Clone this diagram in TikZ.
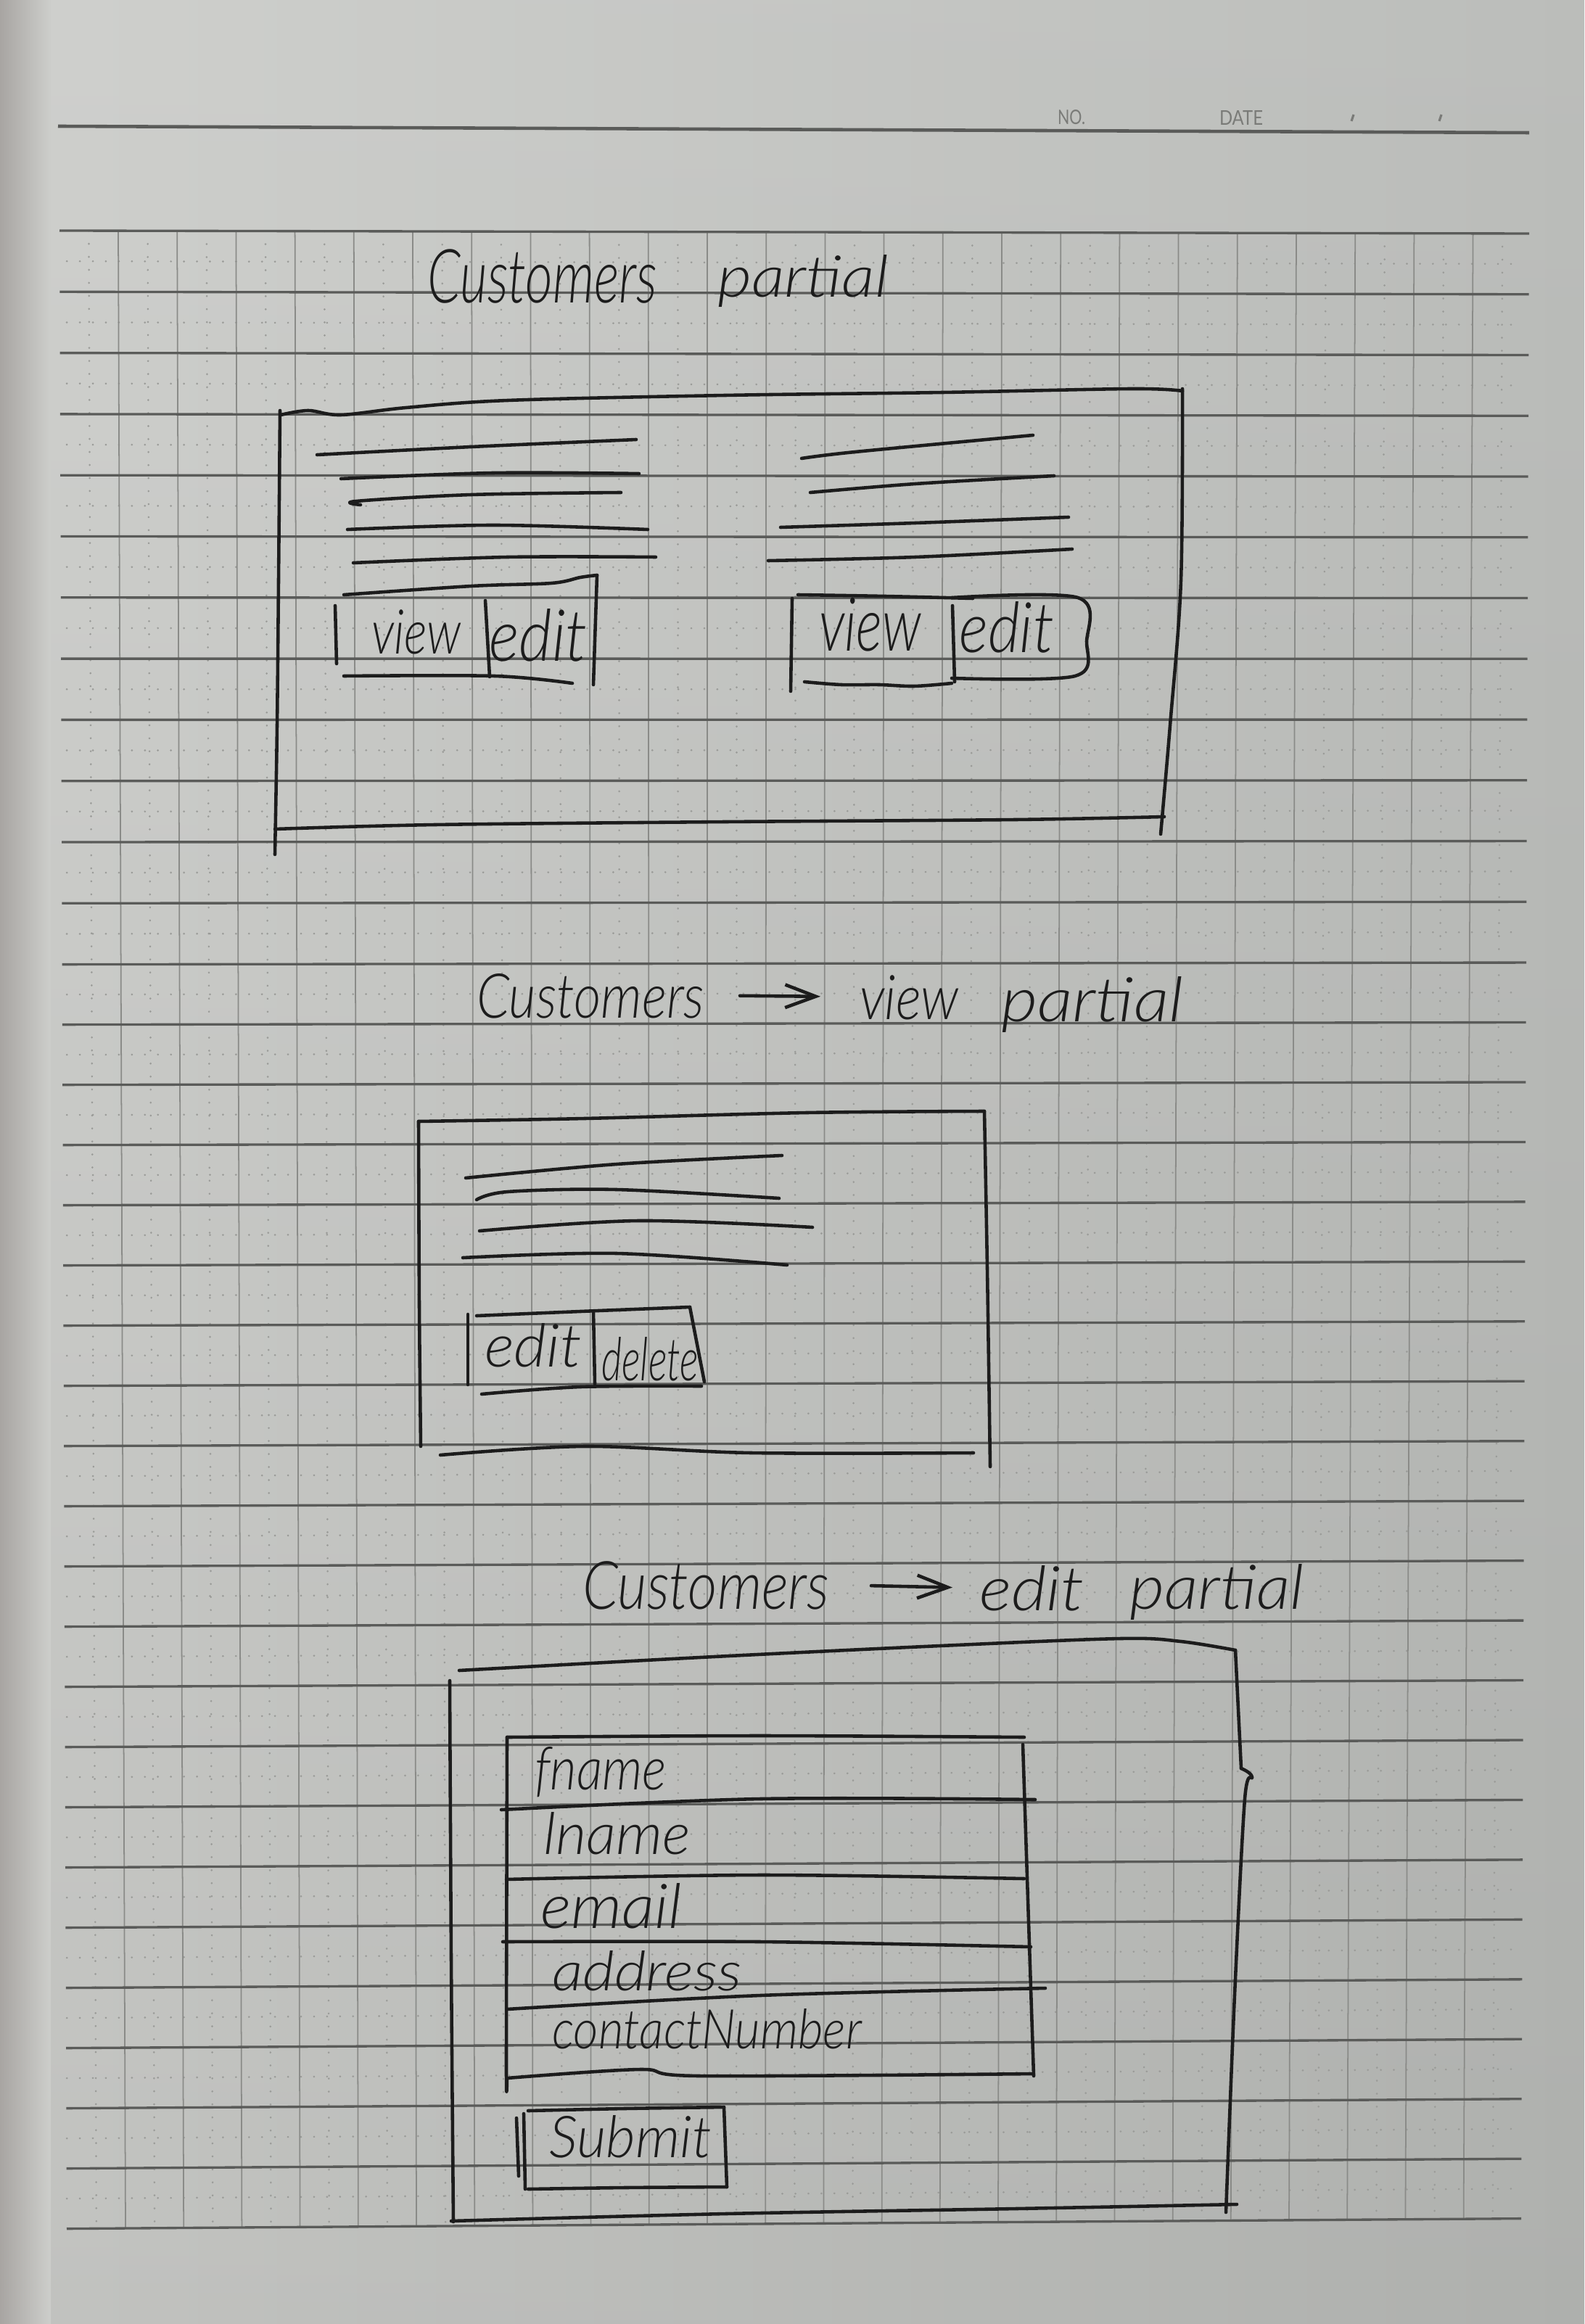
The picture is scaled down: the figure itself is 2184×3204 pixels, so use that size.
\documentclass[tikz,border=0pt]{standalone}
\usepackage{fontspec}
\setmainfont{Lato}
\IfFontExistsTF{Lato Light Italic}
  {\newfontfamily\handfont{Lato Light Italic}}
  {\newcommand\handfont{\itshape}}
\usetikzlibrary{arrows.meta}
% one unit of the sketch grid = 0.01cm
\newdimen\pxu
\pxu=0.01cm
% handwritten word: width, ascender height, text
\newcommand\scrawl[3]{\resizebox{#1\pxu}{#2\pxu}{\handfont\vphantom{l}#3}}
% printed header word: width, height, text
\newcommand\printed[3]{\resizebox{#1\pxu}{#2\pxu}{#3}}
\definecolor{ink}{HTML}{1C1C1C}
\definecolor{paperL}{HTML}{CDCECB}
\definecolor{paperR}{HTML}{B8BAB7}
\definecolor{edge}{HTML}{A8A5A2}
\definecolor{rulecol}{HTML}{5A5B59}
\definecolor{gridcol}{HTML}{8A8B88}
\definecolor{dotcol}{HTML}{9A9B98}
\definecolor{hdrgray}{HTML}{7A7B78}
\tikzset{
  inkline/.style={draw=ink, line width=1.3pt, line cap=round, line join=round},
  ruled/.style={draw=rulecol, line width=0.95pt},
  vruled/.style={draw=gridcol, line width=0.5pt},
  dotrule/.style={draw=dotcol, line width=0.75pt, dash pattern=on 0.1pt off 5pt, line cap=round},
  lbl/.style={inner sep=0pt, outer sep=0pt, anchor=base west, text=ink},
  hdr/.style={inner sep=0pt, outer sep=0pt, anchor=base west, text=hdrgray},
  headarrow/.style={-{Straight Barb[length=12pt,width=9pt]}},
  hand/.style={smooth, tension=0.55},
}
\begin{document}
\begin{tikzpicture}[x=0.01cm, y=-0.01cm]
\useasboundingbox (0,0) rectangle (2184,3204);

% ---------- paper ----------
\shade[left color=paperL, right color=paperR] (0,0) rectangle (2184,3204);
\shade[top color=white, bottom color=black, fill opacity=0.05] (0,0) rectangle (2184,3204);
\shade[left color=edge, right color=paperL] (0,0) rectangle (70,3204);

% header line with printed fields
\draw[draw=rulecol, line width=1.3pt] (80,174) -- (2108,183);
\node[hdr] (no)   at (1458,172) {\printed{38}{20}{NO.}};
\node[hdr] (date) at (1681,173) {\printed{60}{20}{DATE}};
\draw[draw=hdrgray, line width=0.9pt] (1866,158) -- (1863,167);
\draw[draw=hdrgray, line width=0.9pt] (1987,158) -- (1984,167);

% dotted half-lines (horizontal)
\foreach \i in {0,...,32}{
  \pgfmathsetmacro\ya{\i<=12 ? 318+84.3*\i : 1329.6+83*(\i-12)}
  \pgfmathsetmacro\yb{(\i+1)<=12 ? 318+84.3*(\i+1) : 1329.6+83*(\i+1-12)}
  \pgfmathsetmacro\ym{(\ya+\yb)/2}
  \pgfmathsetmacro\yr{\ym+4-(\i+0.5)/33*18}
  \draw[dotrule] (92,\ym) -- (2100,\yr);
}
% dotted half-lines (vertical)
\foreach \j in {0,...,24}{
  \pgfmathsetmacro\xt{122.4+81.2*\j}
  \pgfmathsetmacro\xb{132.9+80.2*\j}
  \pgfmathsetmacro\yt{318+(\xt-82)/2026*4}
  \pgfmathsetmacro\yb{3073-(\xb-92)/2005*14}
  \draw[dotrule] (\xt,\yt) -- (\xb,\yb);
}
% grid columns
\foreach \j in {0,...,23}{
  \pgfmathsetmacro\xt{163+81.2*\j}
  \pgfmathsetmacro\xb{173+80.2*\j}
  \pgfmathsetmacro\yt{318+(\xt-82)/2026*4}
  \pgfmathsetmacro\yb{3073-(\xb-92)/2005*14}
  \draw[vruled] (\xt,\yt) -- (\xb,\yb);
}
% ruled lines
\foreach \i in {0,...,33}{
  \pgfmathsetmacro\yl{\i<=12 ? 318+84.3*\i : 1329.6+83*(\i-12)}
  \pgfmathsetmacro\yr{\yl+4-\i/33*18}
  \pgfmathsetmacro\xl{82+\i/33*10}
  \pgfmathsetmacro\xr{2108-\i/33*11}
  \draw[ruled] (\xl,\yl) -- (\xr,\yr);
}

% ---------- Customers partial ----------
\node[lbl] (t1a) at (589,418) {\scrawl{317}{75}{Customers}};
\node[lbl] (t1b) at (989,410) {\scrawl{236}{58}{partial}};

\draw[inkline] plot[hand] coordinates {(386,566) (384,800) (382,1000) (379,1178)};
\draw[inkline] plot[hand] coordinates {(387,572) (425,566) (470,572) (560,562) (700,552) (1000,545) (1300,541) (1560,536) (1630,539)};
\draw[inkline] plot[hand] coordinates {(1630,536) (1628,800) (1613,1000) (1600,1150)};
\draw[inkline] plot[hand] coordinates {(379,1143) (600,1137) (1000,1133) (1400,1130) (1605,1126)};

% left item: text lines
\draw[inkline] plot[hand] coordinates {(437,627) (650,616) (877,606)};
\draw[inkline] plot[hand] coordinates {(470,660) (680,652) (881,653)};
\draw[inkline] plot[hand] coordinates {(497,696) (491,691) (650,682) (856,679)};
\draw[inkline] plot[hand] coordinates {(479,730) (680,724) (893,730)};
\draw[inkline] plot[hand] coordinates {(487,776) (700,768) (904,768)};
% left item: buttons
\draw[inkline] plot[hand] coordinates {(474,820) (650,808) (760,804) (800,796) (823,793)};
\draw[inkline] (823,793) -- (818,944);
\draw[inkline] (462,835) -- (464,915);
\draw[inkline] (669,828) -- (675,933);
\draw[inkline] plot[hand] coordinates {(474,932) (682,932) (789,942)};
\node[lbl] (v1) at (512,902) {\scrawl{124}{62}{view}};
\node[lbl] (e1) at (674,912) {\scrawl{136}{72}{edit}};

% right item: text lines
\draw[inkline] plot[hand] coordinates {(1105,632) (1179,623) (1424,600)};
\draw[inkline] plot[hand] coordinates {(1117,679) (1262,667) (1453,656)};
\draw[inkline] plot[hand] coordinates {(1076,727) (1262,721) (1473,713)};
\draw[inkline] plot[hand] coordinates {(1059,773) (1262,768) (1478,757)};
% right item: buttons
\draw[inkline] plot[hand] coordinates {(1100,820) (1220,822) (1341,825)};
\draw[inkline] plot[hand] coordinates {(1312,824) (1486,824) (1498,884) (1482,932) (1312,935)};
\draw[inkline] (1092,825) -- (1090,953);
\draw[inkline] (1313,835) -- (1316,940);
\draw[inkline] plot[hand] coordinates {(1109,940) (1160,944) (1212,944) (1260,946) (1312,942)};
\node[lbl] (v2) at (1129,897) {\scrawl{141}{75}{view}};
\node[lbl] (e2) at (1322,900) {\scrawl{131}{70}{edit}};

% ---------- Customers -> view partial ----------
\node[lbl] (t2a) at (657,1403) {\scrawl{314}{62}{Customers}};
\node[lbl] (t2b) at (1185,1405) {\scrawl{137}{62}{view}};
\node[lbl] (t2c) at (1380,1408) {\scrawl{252}{62}{partial}};
\draw[inkline, headarrow, shorten <=49\pxu, shorten >=54\pxu] (t2a.east) -- (t2b.west);

\draw[inkline] plot[hand] coordinates {(577,1546) (806,1542) (1112,1534) (1357,1532)};
\draw[inkline] plot[hand] coordinates {(577,1546) (578,1800) (580,1994)};
\draw[inkline] plot[hand] coordinates {(1357,1532) (1361,1750) (1365,2022)};
\draw[inkline] plot[hand] coordinates {(607,2006) (806,1994) (1036,2003) (1342,2003)};

\draw[inkline] plot[hand] coordinates {(642,1624) (850,1605) (1078,1593)};
\draw[inkline] plot[hand] coordinates {(657,1654) (700,1643) (850,1640) (1074,1652)};
\draw[inkline] plot[hand] coordinates {(661,1697) (880,1683) (1120,1692)};
\draw[inkline] plot[hand] coordinates {(638,1734) (850,1728) (1085,1744)};

\draw[inkline] (645,1812) -- (645,1909);
\draw[inkline] plot[hand] coordinates {(657,1814) (800,1808) (951,1802)};
\draw[inkline] (951,1802) -- (971,1905);
\draw[inkline] (818,1808) -- (820,1908);
\draw[inkline] plot[hand] coordinates {(664,1922) (800,1912) (967,1911)};
\node[lbl] (e3) at (668,1884) {\scrawl{134}{60}{edit}};
\node[lbl] (d3) at (829,1903) {\scrawl{134}{60}{delete}};

% ---------- Customers -> edit partial ----------
\node[lbl] (t3a) at (803,2218) {\scrawl{340}{67}{Customers}};
\node[lbl] (t3b) at (1350,2220) {\scrawl{145}{62}{edit}};
\node[lbl] (t3c) at (1557,2218) {\scrawl{241}{62}{partial}};
\draw[inkline, headarrow, shorten <=58\pxu, shorten >=37\pxu] (t3a.east) -- (t3b.west);

\draw[inkline] plot[hand] coordinates {(633,2303) (965,2285) (1296,2269) (1545,2259) (1628,2263) (1703,2275)};
\draw[inkline] plot[hand] coordinates {(1703,2275) (1711,2438)};
\draw[inkline] plot[hand] coordinates {(1711,2438) (1726,2450) (1716,2480) (1702,2750) (1690,3050)};
\draw[inkline] plot[hand] coordinates {(620,2317) (622,2700) (625,3063)};
\draw[inkline] plot[hand] coordinates {(622,3062) (1000,3052) (1400,3045) (1705,3039)};

% form fields
\draw[inkline] plot[hand] coordinates {(699,2395) (1048,2393) (1412,2395)};
\draw[inkline] plot[hand] coordinates {(699,2395) (698,2846) (699,2865)};
\draw[inkline] plot[hand] coordinates {(1410,2405) (1418,2650) (1425,2862)};
\draw[inkline] plot[hand] coordinates {(691,2495) (1048,2480) (1427,2481)};
\draw[inkline] plot[hand] coordinates {(698,2591) (1048,2585) (1412,2590)};
\draw[inkline] plot[hand] coordinates {(693,2677) (1048,2677) (1421,2684)};
\draw[inkline] plot[hand] coordinates {(699,2770) (1048,2751) (1441,2741)};
\draw[inkline] plot[hand] coordinates {(699,2865) (882,2853) (965,2862) (1425,2859)};
\node[lbl] (f1) at (737,2467) {\scrawl{182}{60}{fname}};
\node[lbl] (f2) at (749,2556) {\scrawl{203}{58}{lname}};
\node[lbl] (f3) at (745,2658) {\scrawl{195}{62}{email}};
\node[lbl] (f4) at (761,2744) {\scrawl{262}{55}{address}};
\node[lbl] (f5) at (761,2824) {\scrawl{427}{55}{contactNumber}};

% submit button
\draw[inkline] plot[hand] coordinates {(728,2910) (860,2907) (998,2905)};
\draw[inkline] (998,2905) -- (1002,3015);
\draw[inkline] plot[hand] coordinates {(1002,3015) (860,3016) (728,3018)};
\draw[inkline] (722,2914) -- (724,3018);
\draw[inkline] (712,2920) -- (715,3000);
\node[lbl] (sb) at (757,2974) {\scrawl{224}{58}{Submit}};
\end{tikzpicture}
\end{document}
